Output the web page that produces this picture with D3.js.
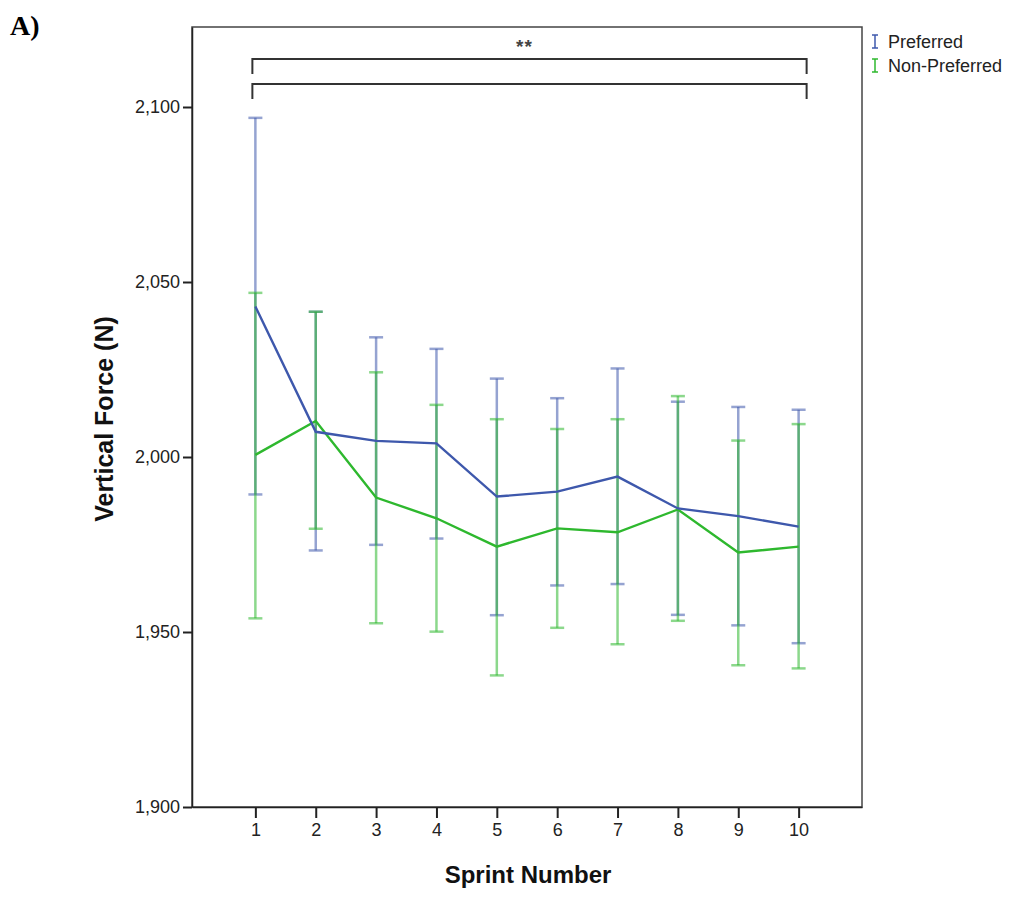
<!DOCTYPE html>
<html>
<head>
<meta charset="utf-8">
<script src="https://cdnjs.cloudflare.com/ajax/libs/d3/7.8.5/d3.min.js"></script>
<style>
  body { margin: 0; background: #fff; }
  svg { display: block; font-family: "Liberation Sans", Arial, sans-serif; }
</style>
</head>
<body>
<div class="chart"></div>
<script>
// values (means and error bar ends)
var sprints = [1, 2, 3, 4, 5, 6, 7, 8, 9, 10];
var yTicks = [1900, 1950, 2000, 2050, 2100];

var preferredMean  = [2043.0, 2007.2, 2004.6, 2003.9, 1988.7, 1990.1, 1994.4, 1985.3, 1983.1, 1980.1];
var preferredUpper = [2096.9, 2041.5, 2034.2, 2030.9, 2022.4, 2016.8, 2025.3, 2015.8, 2014.3, 2013.5];
var preferredLower = [1989.3, 1973.3, 1974.9, 1976.7, 1954.8, 1963.3, 1963.7, 1954.9, 1951.9, 1946.8];

var nonPrefMean  = [2000.6, 2010.3, 1988.4, 1982.5, 1974.4, 1979.6, 1978.5, 1985.0, 1972.7, 1974.4];
var nonPrefUpper = [2046.9, 2041.5, 2024.2, 2014.9, 2010.8, 2008.0, 2010.8, 2017.4, 2004.7, 2009.4];
var nonPrefLower = [1953.9, 1979.5, 1952.5, 1950.1, 1937.6, 1951.2, 1946.5, 1953.2, 1940.5, 1939.6];

var seriesNames = ["Preferred", "Non-Preferred"];
var colors = ["#3e58ac", "#2eb82e"];

var width = 1009,
    height = 899,
    plotLeft = 192, plotRight = 862, plotTop = 27, plotBottom = 807;

var svg = d3.select(".chart").append("svg")
    .attr("width", width)
    .attr("height", height);

var x = d3.scalePoint()
    .domain(sprints)
    .range([plotLeft, plotRight])
    .padding(1.05);

// 50 N per 175 px, axis starts at 1,900
var y = d3.scaleLinear()
    .domain([1900, 1900 + (plotBottom - plotTop) * 50 / 175])
    .range([plotBottom, plotTop]);

var series = [
  { name: seriesNames[0], color: colors[0], mean: preferredMean, hi: preferredUpper, lo: preferredLower },
  { name: seriesNames[1], color: colors[1], mean: nonPrefMean, hi: nonPrefUpper, lo: nonPrefLower }
];

// frame
svg.append("rect")
    .attr("x", plotLeft).attr("y", plotTop)
    .attr("width", plotRight - plotLeft).attr("height", plotBottom - plotTop)
    .attr("fill", "none")
    .attr("stroke", "#444")
    .attr("stroke-width", 1.5);

// axes
var yAxis = svg.append("g")
    .attr("transform", "translate(" + plotLeft + ",0)")
    .call(d3.axisLeft(y).tickValues(yTicks).tickFormat(d3.format(",")).tickSize(9).tickSizeOuter(0).tickPadding(3));

var xAxis = svg.append("g")
    .attr("transform", "translate(0," + plotBottom + ")")
    .call(d3.axisBottom(x).tickSize(11).tickSizeOuter(0).tickPadding(5));

[yAxis, xAxis].forEach(function(ax) {
  ax.select(".domain").attr("stroke", "#222").attr("stroke-width", 1.5);
  ax.selectAll(".tick line").attr("stroke", "#222").attr("stroke-width", 2);
  ax.selectAll("text")
    .attr("font-family", "Liberation Sans, Arial, sans-serif")
    .attr("font-size", 18)
    .attr("fill", "#222");
});

// error bars
var cap = 7;
series.forEach(function(s) {
  var g = svg.append("g")
      .attr("stroke", s.color)
      .attr("stroke-opacity", 0.55)
      .attr("stroke-width", 2.5);

  g.selectAll("line.bar")
    .data(sprints)
    .enter().append("line")
    .attr("class", "bar")
    .attr("x1", function(d) { return x(d); })
    .attr("x2", function(d) { return x(d); })
    .attr("y1", function(d, i) { return y(s.hi[i]); })
    .attr("y2", function(d, i) { return y(s.lo[i]); });

  g.selectAll("line.hicap")
    .data(sprints)
    .enter().append("line")
    .attr("class", "hicap")
    .attr("x1", function(d) { return x(d) - cap; })
    .attr("x2", function(d) { return x(d) + cap; })
    .attr("y1", function(d, i) { return y(s.hi[i]); })
    .attr("y2", function(d, i) { return y(s.hi[i]); });

  g.selectAll("line.locap")
    .data(sprints)
    .enter().append("line")
    .attr("class", "locap")
    .attr("x1", function(d) { return x(d) - cap; })
    .attr("x2", function(d) { return x(d) + cap; })
    .attr("y1", function(d, i) { return y(s.lo[i]); })
    .attr("y2", function(d, i) { return y(s.lo[i]); });
});

// mean lines, green first so blue sits on top
var line = d3.line()
    .x(function(d) { return x(d.x); })
    .y(function(d) { return y(d.y); });

series.slice().reverse().forEach(function(s) {
  svg.append("path")
    .datum(sprints.map(function(d, i) { return { x: d, y: s.mean[i] }; }))
    .attr("fill", "none")
    .attr("stroke", s.color)
    .attr("stroke-width", 2.4)
    .attr("d", line);
});

// significance brackets
var bx1 = x(1) - 3, bx2 = x(10) + 8;
[59, 84].forEach(function(by) {
  svg.append("path")
    .attr("d", "M" + bx1 + "," + (by + 15) + "V" + by + "H" + bx2 + "V" + (by + 15))
    .attr("fill", "none")
    .attr("stroke", "#333")
    .attr("stroke-width", 2);
});
svg.append("text")
    .attr("x", (bx1 + bx2) / 2 - 5)
    .attr("y", 53)
    .attr("text-anchor", "middle")
    .attr("font-size", 19)
    .attr("font-weight", "bold")
    .attr("letter-spacing", 1)
    .attr("fill", "#444")
    .text("**");

// legend
series.forEach(function(s, i) {
  var ly = 35 + i * 24;
  var g = svg.append("g").attr("stroke", s.color).attr("stroke-width", 1.5);
  g.append("line").attr("x1", 875).attr("x2", 875).attr("y1", ly).attr("y2", ly + 13);
  g.append("line").attr("x1", 872).attr("x2", 878).attr("y1", ly).attr("y2", ly);
  g.append("line").attr("x1", 872).attr("x2", 878).attr("y1", ly + 13).attr("y2", ly + 13);
  svg.append("text")
    .attr("x", 888)
    .attr("y", ly + 13)
    .attr("font-size", 18)
    .attr("fill", "#222")
    .text(s.name);
});

// axis titles
svg.append("text")
    .attr("x", (plotLeft + plotRight) / 2 + 1)
    .attr("y", 883)
    .attr("text-anchor", "middle")
    .attr("font-size", 24)
    .attr("font-weight", "bold")
    .attr("fill", "#111")
    .text("Sprint Number");

svg.append("text")
    .attr("transform", "translate(113,419) rotate(-90)")
    .attr("text-anchor", "middle")
    .attr("font-size", 25)
    .attr("font-weight", "bold")
    .attr("fill", "#111")
    .text("Vertical Force (N)");

// panel label
svg.append("text")
    .attr("x", 10)
    .attr("y", 35)
    .attr("font-family", "Liberation Serif, Times New Roman, serif")
    .attr("font-size", 28)
    .attr("font-weight", "bold")
    .text("A)");
</script>
</body>
</html>
